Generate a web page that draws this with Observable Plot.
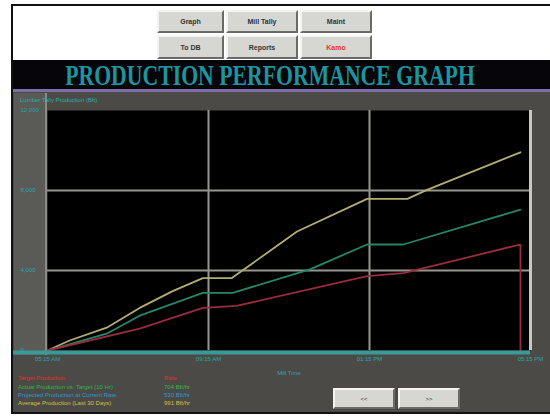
<!DOCTYPE html>
<html><head><meta charset="utf-8">
<script src="https://cdn.jsdelivr.net/npm/d3@7"></script>
<script src="https://cdn.jsdelivr.net/npm/@observablehq/plot@0.6"></script>
<style>
body{margin:0;width:550px;height:416px;background:#fff;position:relative;overflow:hidden;font-family:"Liberation Sans",Arial,sans-serif}
.abs{position:absolute;box-sizing:border-box}
.btn{position:absolute;box-sizing:border-box;background:#d6d6d2;border:2px solid;border-color:#f4f4f2 #6a6a66 #6a6a66 #f4f4f2;font:bold 7px "Liberation Sans",Arial,sans-serif;color:#333;display:flex;align-items:center;justify-content:center}
.leg{position:absolute;font:6px "Liberation Sans",Arial,sans-serif;white-space:nowrap}
</style></head>
<body>
<div class="abs" style="left:11px;top:4px;width:545px;height:410px;border:2px solid #111;border-right:none"></div>
<div class="btn" style="left:157px;top:10px;width:67px;height:23px">Graph</div>
<div class="btn" style="left:226px;top:10px;width:72px;height:23px">Mill Tally</div>
<div class="btn" style="left:300px;top:10px;width:72px;height:23px">Maint</div>
<div class="btn" style="left:157px;top:35px;width:67px;height:24px">To DB</div>
<div class="btn" style="left:226px;top:35px;width:72px;height:24px">Reports</div>
<div class="btn" style="left:300px;top:35px;width:72px;height:24px;color:#e03a2a">Kamo</div>
<div class="abs" style="left:13px;top:60px;width:537px;height:32px;background:#05050a;border-bottom:3px solid #7d6fa6"></div>
<div class="abs" style="left:-60px;top:59px;width:660px;height:32px;text-align:center;font:bold 30px/32px 'Liberation Serif',serif;color:#1d95a0;white-space:nowrap;transform:scaleX(0.725);transform-origin:330px 50%">PRODUCTION PERFORMANCE GRAPH</div>
<div class="abs" style="left:13px;top:92px;width:537px;height:320px;background:#4b4a46"></div>
<div class="abs" style="left:14px;top:93px;width:33px;height:262px;background:#5a5a57;border-right:2px solid #8a8a86"></div>
<div id="chart" class="abs" style="left:13px;top:92px"></div>
<div class="leg" style="left:20px;top:97px;color:#26b0b0">Lumber Tally Production (Bft)</div>
<div class="leg" style="left:18px;top:375px;color:#e0302a">Target Production</div>
<div class="leg" style="left:18px;top:384px;color:#2fb84a">Actual Production vs. Target (10 Hr)</div>
<div class="leg" style="left:18px;top:392px;color:#2a9ad8">Projected Production at Current Rate</div>
<div class="leg" style="left:18px;top:400px;color:#d8c040">Average Production (Last 30 Days)</div>
<div class="leg" style="left:164px;top:375px;color:#e0302a">Rate</div>
<div class="leg" style="left:164px;top:384px;color:#2fb84a">704 Bft/hr</div>
<div class="leg" style="left:164px;top:392px;color:#2a9ad8">530 Bft/hr</div>
<div class="leg" style="left:164px;top:400px;color:#d8c040">991 Bft/hr</div>
<div class="btn" style="left:333px;top:388px;width:62px;height:21px;font-weight:normal;font-size:6px">&lt;&lt;</div>
<div class="btn" style="left:398px;top:388px;width:62px;height:21px;font-weight:normal;font-size:6px">&gt;&gt;</div>
<script>
const xTicks = [0, 4, 8, 12];
const xTickLabels = ["05:15 AM", "09:15 AM", "01:15 PM", "05:15 PM"];
const yTicks = [0, 4000, 8000, 12000];
const yTickLabels = ["0", "4,000", "8,000", "12,000"];
const seriesNames = ["Average", "Actual", "Target"];
const seriesColors = ["#b4ad72", "#27866a", "#9a2c3c"];
const avgX = [0, 0.55, 1.47, 2.29, 3.11, 3.86, 4.58, 6.2, 7.94, 8.94, 9.43, 11.75];
const avgY = [0, 500, 1140, 2130, 2970, 3620, 3620, 5950, 7580, 7580, 8030, 9910];
const actX = [0, 1.47, 2.29, 3.86, 4.6, 6.52, 7.94, 8.84, 11.75];
const actY = [0, 840, 1740, 2880, 2880, 4060, 5300, 5300, 7040];
const tgtX = [0, 2.29, 3.86, 4.7, 7.94, 8.84, 11.75, 11.75];
const tgtY = [0, 1090, 2130, 2230, 3720, 3870, 5300, 0];

const rows = [];
[[avgX, avgY], [actX, actY], [tgtX, tgtY]].forEach(([xs, ys], i) =>
  xs.forEach((x, j) => rows.push({series: seriesNames[i], t: x, v: ys[j]})));

const teal = "#27a9a9";
const chart = Plot.plot({
  width: 537, height: 290,
  marginLeft: 34, marginRight: 20, marginTop: 18, marginBottom: 32,
  style: {background: "transparent", fontFamily: "Liberation Sans, Arial, sans-serif"},
  x: {domain: [0, 12], axis: null},
  y: {domain: [0, 12000], axis: null},
  color: {domain: seriesNames, range: seriesColors},
  marks: [
    Plot.frame({fill: "#000", stroke: null}),
    Plot.ruleX(xTicks.slice(1, 3), {stroke: "#96968f", strokeWidth: 2}),
    Plot.ruleY(yTicks.slice(1, 3), {stroke: "#96968f", strokeWidth: 2}),
    Plot.ruleX(xTicks.slice(3), {stroke: "#c8c8c4", strokeWidth: 3}),
    Plot.line(rows, {x: "t", y: "v", z: "series", stroke: "series", strokeWidth: 1.8}),
    Plot.ruleY(yTicks.slice(0, 1), {stroke: "#3a9a98", strokeWidth: 4, dy: 2, insetLeft: -34}),
    Plot.text(yTicks, {y: d => d, frameAnchor: "left", dx: -27, textAnchor: "start", text: (d, i) => yTickLabels[i], fill: teal, fontSize: 6}),
    Plot.text(xTicks, {x: d => d, frameAnchor: "bottom", dy: 10, text: (d, i) => xTickLabels[i], fill: teal, fontSize: 6}),
    Plot.text(["Mill Time"], {frameAnchor: "bottom", dy: 24, text: d => d, fill: teal, fontSize: 6})
  ]
});
document.getElementById("chart").appendChild(chart);
</script>
</body></html>
